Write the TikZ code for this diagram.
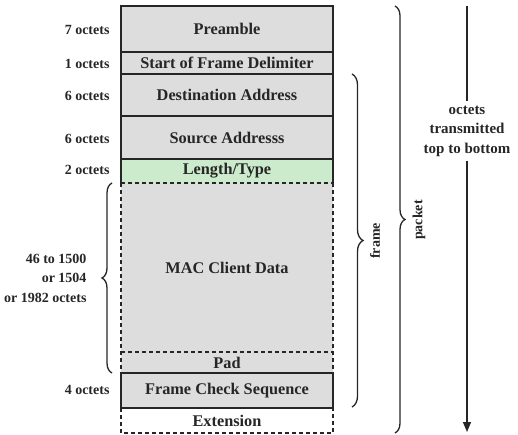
\documentclass[tikz,border=0pt]{standalone}
\usepackage{fontspec}
\setmainfont{Liberation Serif}
\usetikzlibrary{decorations.pathreplacing,arrows.meta}
\definecolor{fieldgray}{RGB}{221,221,221}
\definecolor{fieldgreen}{RGB}{204,235,204}
\begin{document}
\begin{tikzpicture}[x=1pt,y=1pt,
  every node/.style={font=\fontsize{14}{19.5}\selectfont\bfseries, text=black!85},
  field/.style={fill=fieldgray, minimum width=212pt, anchor=north west, inner sep=0pt, outer sep=0pt, font=\fontsize{16.3}{19.5}\selectfont\bfseries},
  solidline/.style={line width=1.6pt, draw=black!85},
  dashline/.style={line width=1.6pt, draw=black!85, dash pattern=on 4pt off 3pt},
  bracestyle/.style={line width=1.3pt, draw=black!85, decorate},
  octlabel/.style={anchor=base east}]
\useasboundingbox (0,0) rectangle (518,-435);
% fields
\node[field, minimum height=46pt] (pre) at (121,-6) {Preamble};
\node[field, minimum height=22pt] (sfd) at (121,-52) {Start of Frame Delimiter};
\node[field, minimum height=42pt] (dst) at (121,-74) {Destination Address};
\node[field, minimum height=43pt] (src) at (121,-116) {Source Addresss};
\node[field, minimum height=24pt, fill=fieldgreen] (len) at (121,-159) {Length/Type};
\node[field, minimum height=169pt] (mac) at (121,-183) {MAC Client Data};
\node[field, minimum height=21pt] (pad) at (121,-352) {Pad};
\node[field, minimum height=35pt] (fcs) at (121,-373) {Frame Check Sequence};
\node[field, minimum height=25pt, fill=white] (ext) at (121,-408) {Extension};
% borders
\draw[solidline] (len.south west) -- (pre.north west) -- (pre.north east) -- (len.south east);
\draw[solidline] (pre.south west) -- (pre.south east);
\draw[solidline] (sfd.south west) -- (sfd.south east);
\draw[solidline] (dst.south west) -- (dst.south east);
\draw[solidline] (src.south west) -- (src.south east);
\draw[dashline] (len.south west) -- (len.south east);
\draw[dashline] (mac.north west) -- (pad.south west);
\draw[dashline] (mac.north east) -- (pad.south east);
\draw[dashline] (mac.south west) -- (mac.south east);
\draw[solidline] (fcs.north west) rectangle (fcs.south east);
\draw[dashline] (ext.north west) -- (ext.south west) -- (ext.south east) -- (ext.north east);
% octet labels
\node[octlabel] (l1) at ([xshift=-8pt]pre.base west) {7 octets};
\node[octlabel] (l2) at ([xshift=-8pt]sfd.base west) {1 octets};
\node[octlabel] (l3) at ([xshift=-8pt]dst.base west) {6 octets};
\node[octlabel] (l4) at ([xshift=-8pt]src.base west) {6 octets};
\node[octlabel] (l5) at ([xshift=-8pt]len.base west) {2 octets};
\node[octlabel] (l6) at ([xshift=-8pt]fcs.base west) {4 octets};
% data brace
\coordinate (db1) at (112,-373);
\coordinate (db2) at (112,-183);
\draw[bracestyle, decoration={brace, amplitude=10pt}] (db1) -- (db2);
\node[anchor=east, align=right] (dlab) at (90,-278) {46 to 1500\\or 1504\\or 1982 octets};
% frame brace
\coordinate (fb1) at (352,-74);
\coordinate (fb2) at (352,-407);
\draw[bracestyle, decoration={brace, amplitude=11pt}] (fb1) -- (fb2);
\node[rotate=90] (flab) at (375,-241) {frame};
% packet brace
\coordinate (pb1) at (395,-6);
\coordinate (pb2) at (395,-433);
\draw[bracestyle, decoration={brace, amplitude=10pt}] (pb1) -- (pb2);
\node[rotate=90] (plab) at (419,-220) {packet};
% arrow
\coordinate (atop) at (467,-6);
\coordinate (abot) at (467,-432);
\node[align=center, inner sep=4pt, font=\fontsize{15}{19.5}\selectfont\bfseries] (tx) at (467,-131) {octets\\transmitted\\top to bottom};
\draw[line width=1.3pt, draw=black!85] (atop) -- (tx.north);
\draw[line width=1.3pt, draw=black!85, -{Triangle[length=10pt,width=8pt]}] (tx.south) -- (abot);
\end{tikzpicture}
\end{document}
